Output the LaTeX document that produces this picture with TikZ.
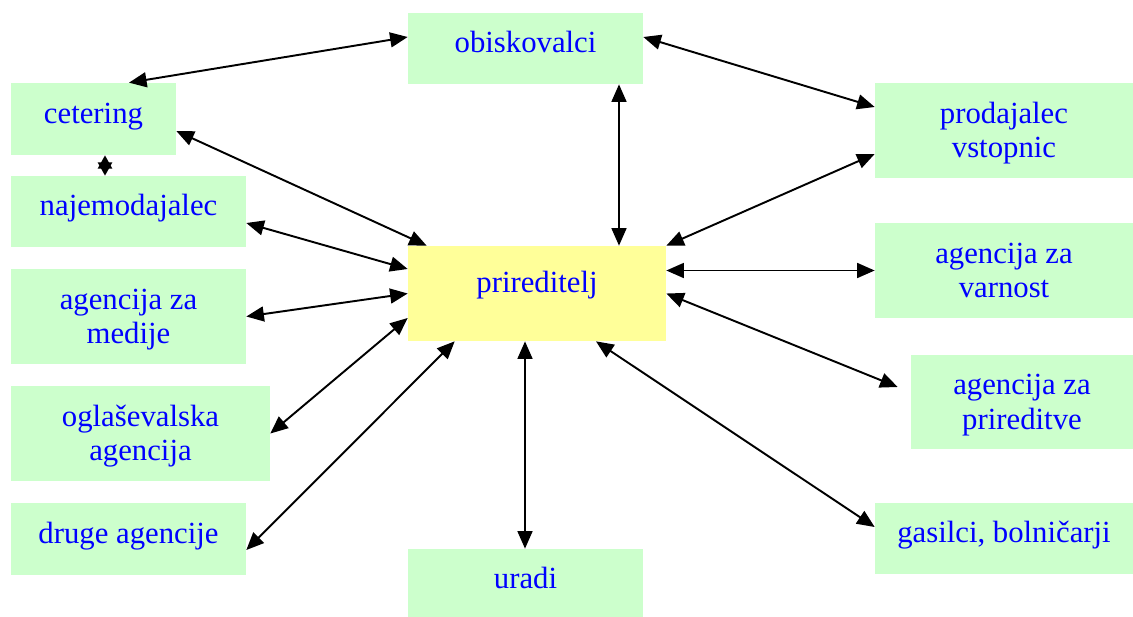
\documentclass[tikz,border=0pt]{standalone}
\usepackage{fontspec}
\setmainfont{Liberation Serif}
\usepackage{xcolor}
\usepackage{tikz}
\usetikzlibrary{arrows.meta, positioning, calc}
\definecolor{boxgreen}{RGB}{204,255,204}
\definecolor{boxyellow}{RGB}{255,255,153}
\tikzset{
    base/.style={font=\fontsize{17.5}{19.8}\selectfont, text=blue, align=center, inner sep=0pt, text height=11pt, text depth=5.9pt},
    block/.style={base, rectangle, fill=boxgreen, minimum width=4.7cm, minimum height=1.42cm},
    blocktwo/.style={block, minimum height=1.9cm, text height=36.5pt, text depth=5.3pt},
    blockshaded/.style={base, rectangle, fill=boxyellow, minimum width=5.16cm, minimum height=1.9cm, text depth=12.7pt},
    line/.style={draw=black, line width=1.1pt, {Triangle[length=10pt, width=8.5pt]}-{Triangle[length=10pt, width=8.5pt]}},
    short-line/.style={draw=black, line width=1.1pt, {Triangle[length=7.5pt, width=8pt]}-{Triangle[length=7.5pt, width=8pt]}}
}

\begin{document}
\begin{tikzpicture}[x=0.02cm, y=-0.02cm]
    \useasboundingbox (0,0) rectangle (1133,616);
    \node [blockshaded] (Prireditelj) at (537,293.5) {prireditelj};
    \node [block] (Obiskovalci) at (525.5,48.5) {obiskovalci};
    \node [block, minimum width=3.3cm, minimum height=1.44cm] (Cetering) at (93.5,119) {cetering};
    \node [block] (Najem) at (128.5,211.5) {najemodajalec};
    \node [blocktwo] (Mediji) at (128.5,316.5) {agencija za\\medije};
    \node [blocktwo, minimum width=5.18cm] (Oglas) at (140.5,433.5) {oglaševalska\\agencija};
    \node [block, minimum height=1.44cm] (Druge) at (128.5,539) {druge agencije};
    \node [block] (Uradi) at (525.5,584.5) {uradi};
    \node [blocktwo, minimum width=5.16cm] (Prodajalec) at (1004,130.5) {prodajalec\\vstopnic};
    \node [blocktwo, minimum width=5.16cm] (Varnost) at (1004,270.5) {agencija za\\varnost};
    \node [blocktwo, minimum width=4.44cm, minimum height=1.88cm] (AgPrired) at (1022,402) {agencija za\\prireditve};
    \node [block, minimum width=5.16cm] (Gasilci) at (1004,538.5) {gasilci, bolničarji};

    \draw [line] ($(Cetering.north)+(35.5,0)$) -- ($(Obiskovalci.west)+(0,-11.5)$);
    \draw [line] ($(Obiskovalci.east)+(0,-11.5)$) -- ($(Prodajalec.west)+(0,-23.5)$);
    \draw [line] ($(Obiskovalci.south)+(93.5,0)$) -- ($(Prireditelj.north)+(82,0)$);
    \draw [line] ($(Prodajalec.west)+(0,23.5)$) -- (Prireditelj.north east);
    \draw [line] ($(Cetering.east)+(0,12)$) -- ($(Prireditelj.north west)+(19,0)$);
    \draw [short-line] ($(Cetering.south)+(11.5,0)$) -- ($(Najem.north)+(-23.5,0)$);
    \draw [line] ($(Najem.east)+(0,11.5)$) -- ($(Prireditelj.west)+(0,-24.5)$);
    \draw [line] (Mediji.east) -- (Prireditelj.west);
    \draw [line] (Oglas.east) -- ($(Prireditelj.west)+(0,24.5)$);
    \draw [line] ($(Druge.east)+(0,11)$) -- ($(Prireditelj.south west)+(47,0)$);
    \draw [line] ($(Prireditelj.south)+(-12,0)$) -- ($(Uradi.north)+(-0.5,0)$);
    \draw [line] ($(Prireditelj.south)+(59,0)$) -- ($(Gasilci.west)+(0,-11.5)$);
    \draw [line] (Prireditelj.east) -- ($(AgPrired.west)+(-13,-15)$);
    \draw [line] (Prireditelj.east |- Varnost.west) -- (Varnost.west);
\end{tikzpicture}
\end{document}
